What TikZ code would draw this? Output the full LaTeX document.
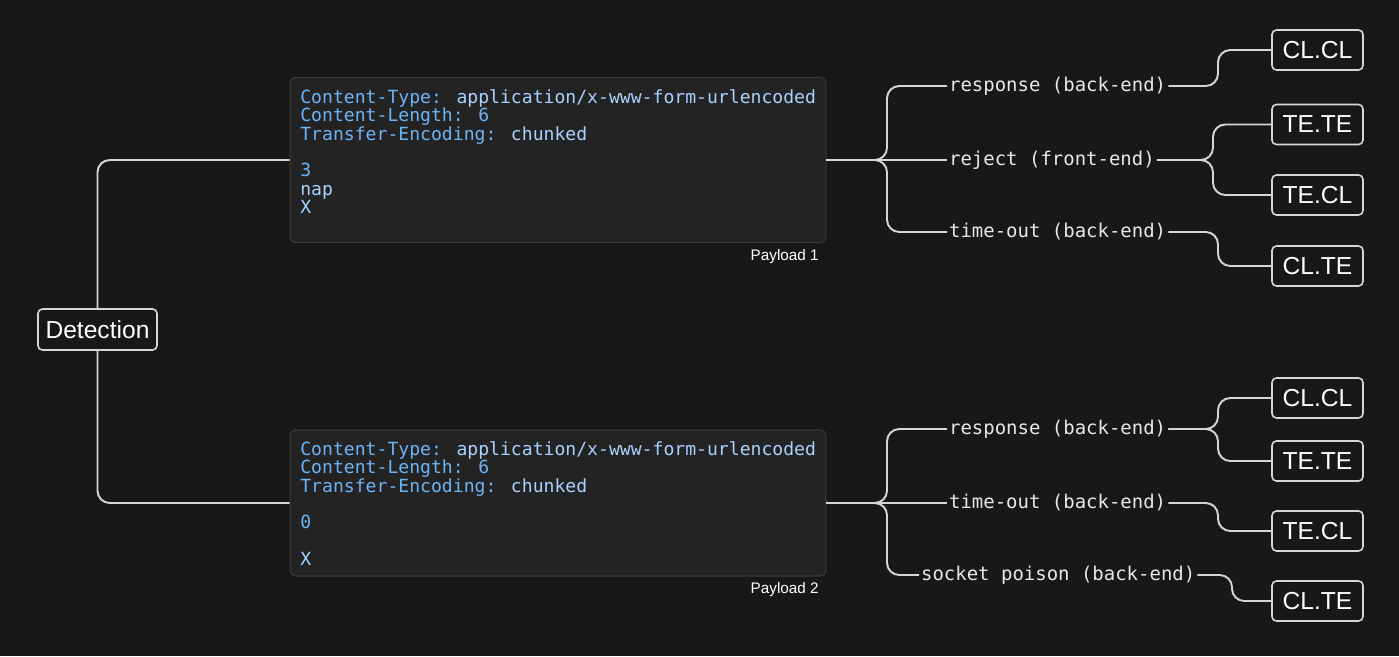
\documentclass[tikz,border=0pt]{standalone}
\usepackage{fontspec}
\setmainfont{Liberation Sans}
\newfontfamily\codefont{DejaVu Sans Mono}

\definecolor{bg}{HTML}{181818}
\definecolor{boxbg}{HTML}{232323}
\definecolor{boxline}{HTML}{3A3A3A}
\definecolor{linec}{HTML}{D6D6D6}
\definecolor{labc}{HTML}{E8E8E8}
\definecolor{keyc}{HTML}{6CB4F5}
\definecolor{valc}{HTML}{A9D2FF}

\tikzset{
  conn/.style={draw=linec, line width=1.1pt, rounded corners=7pt},
  leaf/.style={draw=linec, line width=0.9pt, rounded corners=2.5pt, fill=bg, text=white,
    minimum width=1.82cm, minimum height=0.8cm, inner sep=0pt, font=\fontsize{14}{16}\selectfont},
  branch/.style={anchor=west, text=labc, inner sep=1pt, font=\codefont\fontsize{10.8}{12}\selectfont},
  payload/.style={draw=boxline, fill=boxbg, rounded corners=3pt, line width=0.6pt,
    minimum width=10.72cm, minimum height=3.3cm},
  code/.style={anchor=north west, inner sep=0pt, align=left, font=\codefont\fontsize{10.3}{10.4}\selectfont},
  plabel/.style={anchor=east, inner sep=0pt, text=white, font=\fontsize{8.7}{10}\selectfont},
}

\begin{document}
\begin{tikzpicture}[x=0.02cm, y=-0.02cm]
  \fill[bg] (0,0) rectangle (1399,656);
  \useasboundingbox (0,0) rectangle (1399,656);

  % junction columns
  \coordinate (ja) at (887,0);
  \coordinate (kb) at (1218,0);
  \coordinate (kc) at (1213,0);
  \coordinate (kd) at (1232,0);

  % root
  \node[leaf, minimum width=2.38cm, minimum height=0.82cm] (det) at (97.5,329.5) {Detection};

  % payloads
  \node[payload] (p1) at (558,160) {};
  \node[code] (c1) at (300,89.5) {%
    {\color{keyc}Content-Type:} {\color{valc}application/x-www-form-urlencoded}\\
    {\color{keyc}Content-Length: 6}\\
    {\color{keyc}Transfer-Encoding:} {\color{valc}chunked}\\[10.4pt]
    {\color{keyc}3}\\
    {\color{valc}nap}\\
    {\color{valc}X}};
  \node[plabel] (pl1) at (819,257) {Payload 1};

  \node[payload, minimum height=2.92cm] (p2) at (558,503) {};
  \node[code] (c2) at (300,441.5) {%
    {\color{keyc}Content-Type:} {\color{valc}application/x-www-form-urlencoded}\\
    {\color{keyc}Content-Length: 6}\\
    {\color{keyc}Transfer-Encoding:} {\color{valc}chunked}\\[10.4pt]
    {\color{keyc}0}\\[10.4pt]
    {\color{valc}X}};
  \node[plabel] (pl2) at (819,590) {Payload 2};

  % outcomes, payload 1
  \node[branch] (r1) at (947,86) {response (back-end)};
  \node[branch] (r2) at (947,160) {reject (front-end)};
  \node[branch] (r3) at (947,232) {time-out (back-end)};

  % outcomes, payload 2
  \node[branch] (s1) at (947,429) {response (back-end)};
  \node[branch] (s2) at (947,503) {time-out (back-end)};
  \node[branch] (s3) at (919,575) {socket poison (back-end)};

  % variants
  \node[leaf] (a1) at (1317.5,50) {CL.CL};
  \node[leaf] (a2) at (1317.5,124.5) {TE.TE};
  \node[leaf] (a3) at (1317.5,195) {TE.CL};
  \node[leaf] (a4) at (1317.5,266) {CL.TE};

  \node[leaf] (b1) at (1317.5,398) {CL.CL};
  \node[leaf] (b2) at (1317.5,461) {TE.TE};
  \node[leaf] (b3) at (1317.5,531) {TE.CL};
  \node[leaf] (b4) at (1317.5,601) {CL.TE};

  % root to payloads
  \draw[conn] (det.north) |- (p1.west);
  \draw[conn] (det.south) |- (p2.west);

  % payload 1 tree
  \draw[conn] (p1.east) -- (p1.east -| ja) |- (r1.west);
  \draw[conn] (p1.east) -- (r2.west);
  \draw[conn] (p1.east) -- (p1.east -| ja) |- (r3.west);
  \draw[conn] (r1.east) -- (r1.east -| kb) |- (a1.west);
  \draw[conn] (r2.east) -- (r2.east -| kc) |- (a2.west);
  \draw[conn] (r2.east) -- (r2.east -| kc) |- (a3.west);
  \draw[conn] (r3.east) -- (r3.east -| kb) |- (a4.west);

  % payload 2 tree
  \draw[conn] (p2.east) -- (p2.east -| ja) |- (s1.west);
  \draw[conn] (p2.east) -- (s2.west);
  \draw[conn] (p2.east) -- (p2.east -| ja) |- (s3.west);
  \draw[conn] (s1.east) -- (s1.east -| kb) |- (b1.west);
  \draw[conn] (s1.east) -- (s1.east -| kb) |- (b2.west);
  \draw[conn] (s2.east) -- (s2.east -| kb) |- (b3.west);
  \draw[conn] (s3.east) -- (s3.east -| kd) |- (b4.west);
\end{tikzpicture}
\end{document}
